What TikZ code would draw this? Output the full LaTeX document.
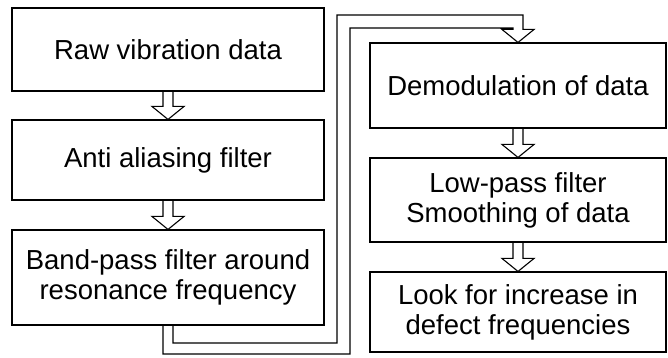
\documentclass[tikz,border=0pt]{standalone}
\usepackage{fontspec}
\setmainfont{Liberation Sans}
\usetikzlibrary{calc}
\tikzset{stage/.style = {draw, line width = 1.1, inner sep = 0, align = center, font = \fontsize{27.5}{30}\selectfont}}
\tikzset{pipe/.style = {draw, line width = 1.1, line join = miter}}
\newcommand{\hollowarrow}[2]{%
  \draw [pipe] ($(#1.south) + (-5, 0)$) -- ($(#2.north) + (-5, 13)$) -- ++(-11, 0) -- (#2.north) -- ++(16, 13) -- ++(-11, 0) -- ($(#1.south) + (5, 0)$);
}

\begin{document}
\begin{tikzpicture}[x = 1pt, y = 1pt]
      \useasboundingbox (0, 0) rectangle (668, 358);

      \node [stage, minimum width = 312, minimum height = 83] (raw) at (168, 308.5) {Raw vibration data};
      \node [stage, minimum width = 312, minimum height = 80] (alias) at (168, 198) {Anti aliasing filter};
      \node [stage, minimum width = 312, minimum height = 95] (band) at (168, 80.5) {Band-pass filter around\\resonance frequency};

      \node [stage, minimum width = 296, minimum height = 85] (demod) at (518, 272.5) {Demodulation of data};
      \node [stage, minimum width = 296, minimum height = 84] (lowpass) at (518, 158) {Low-pass filter\\Smoothing of data};
      \node [stage, minimum width = 296, minimum height = 80] (defect) at (518, 46) {Look for increase in\\defect frequencies};

      \hollowarrow{raw}{alias}
      \hollowarrow{alias}{band}
      \hollowarrow{demod}{lowpass}
      \hollowarrow{lowpass}{defect}

      % pipe from the left column over to the right one
      \draw [pipe] ($(band.south) + (-5, 0)$) |- (350, 4) -- (350, 330) -| ($(demod.north) + (-5, 13)$)
        -- ++(-11, 0) -- (demod.north) -- ++(16, 13) -- ++(-11, 0) |- (337, 343) -- (337, 15) -| ($(band.south) + (5, 0)$);
    \end{tikzpicture}
\end{document}
